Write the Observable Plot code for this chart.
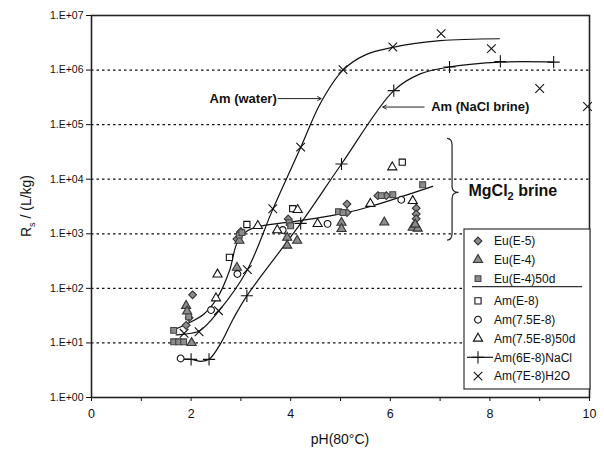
<!DOCTYPE html>
<html><head><meta charset="utf-8">
<script src="https://cdn.jsdelivr.net/npm/d3@7"></script>
<script src="https://cdn.jsdelivr.net/npm/@observablehq/plot@0.6"></script>
<style>
body{margin:0;background:#fff;}
#chart{position:relative;width:604px;height:456px;font-family:"Liberation Sans",Arial,sans-serif;}
</style>
</head><body><div id="chart"></div>
<script>
// ---- data ----
const yTicks = [1, 10, 100, 1e3, 1e4, 1e5, 1e6, 1e7];
const gridY = [10, 100, 1e3, 1e4, 1e5, 1e6];
const xTicks = [0, 1, 2, 3, 4, 5, 6, 7, 8, 9, 10];

const euE5 = [[2.03,76],[1.96,29],[1.9,21],[3.0,1100],[2.92,800],[3.95,1870],[5.13,3500],[5.13,2450],[5.75,5000],[5.92,5000],[6.52,2950],[6.52,2300],[6.52,1880]];
const euE4 = [[1.9,48],[1.92,38],[2.01,10],[2.92,240],[2.97,750],[3.93,850],[3.93,610],[4.13,750],[5.02,1600],[5.02,1230],[5.88,1620],[6.45,1300],[6.55,1250],[6.5,1480]];
const euE4_50d = [[1.65,17],[1.65,10.5],[1.75,10.5],[1.85,10.5],[1.95,30],[2.97,950],[3.02,1050],[3.97,1600],[4.0,1400],[4.96,2550],[5.05,2450],[5.82,5000],[6.05,5200],[6.65,7900]];
const amE8 = [[2.77,370],[3.12,1480],[4.04,2880],[6.24,20500]];
const am75E8 = [[1.79,5.2],[2.4,40],[2.93,183],[3.84,1170],[4.74,1520],[6.22,4200]];
const am75E8_50d = [[2.5,66],[2.53,180],[3.34,1400],[3.73,1170],[4.14,2750],[4.54,1520],[5.6,3550],[6.45,4000],[6.04,16600]];
const amNaCl = [[2.0,5],[2.36,5],[3.12,73],[4.2,1550],[5.02,19000],[6.07,420000],[7.19,1140000],[8.21,1440000],[9.28,1400000]];
const amH2O = [[1.86,15],[2.16,16],[2.55,39],[3.13,220],[3.64,2870],[4.2,38700],[5.05,1020000],[6.05,2650000],[7.02,4650000],[8.03,2470000],[9.0,460000],[9.96,215000]];

// fitted curves
const waterFit = [[1.7,14],[1.86,14.5],[2.16,16.5],[2.55,38],[3.13,220],[3.64,2800],[4.2,38000],[4.6,250000],[5.05,1000000],[5.5,1900000],[6.05,2600000],[7.0,3450000],[8.19,3750000]];
const naclFit = [[1.8,5],[2.0,5],[2.2,4.6],[2.36,5],[2.6,10],[2.85,28],[3.12,73],[4.2,1550],[5.02,19000],[6.07,420000],[6.6,850000],[7.19,1140000],[8.21,1400000],[9.28,1400000]];
const mgFit = [[1.63,17],[1.9,22],[2.26,34],[2.53,68],[2.77,210],[2.93,700],[3.14,1150],[3.4,1380],[4.19,1740],[5.13,2450],[5.6,3160],[6.85,7400]];

const arrows = [
  {x1:3.75, y1:300000, x2:4.61, y2:300000},
  {x1:6.68, y1:210000, x2:5.85, y2:210000}
];
const labelWater = [{x:3.72, y:300000, text:"Am (water)"}];
const labelNaCl = [{x:6.82, y:210000, text:"Am (NaCl brine)"}];
const mgLabel = {x:7.58, y:6200};
const brace = {x:7.15, xTip:7.38, top:55000, mid:5600, bottom:750};

const legendNames = ["Eu(E-5)","Eu(E-4)","Eu(E-4)50d","Am(E-8)","Am(7.5E-8)","Am(7.5E-8)50d","Am(6E-8)NaCl","Am(7E-8)H2O"];

// ---- styles ----
const GRAY = "#8c8c8c";
const styles = [
  {data:euE5, symbol:"diamond2", fill:GRAY, stroke:"#333", r:3.5, sym:d3.symbolDiamond2},
  {data:euE4, symbol:"triangle", fill:GRAY, stroke:"#333", r:3.4, sym:d3.symbolTriangle},
  {data:euE4_50d, symbol:"square", fill:GRAY, stroke:"#444", r:3.3, sym:d3.symbolSquare},
  {data:amE8, symbol:"square", fill:"white", stroke:"#111", r:3.5, sym:d3.symbolSquare},
  {data:am75E8, symbol:"circle", fill:"white", stroke:"#111", r:3.4, sym:d3.symbolCircle},
  {data:am75E8_50d, symbol:"triangle", fill:"white", stroke:"#111", r:3.4, sym:d3.symbolTriangle},
  {data:amNaCl, symbol:"plus", fill:"none", stroke:"#111", r:4.0, sym:d3.symbolPlus, line:true},
  {data:amH2O, symbol:"times", fill:"none", stroke:"#111", r:4.0, sym:d3.symbolTimes}
];

const fmtY = d => "1.E+" + String(Math.round(Math.log10(d))).padStart(2, "0");

const dotMarks = styles.map(s => Plot.dot(s.data, {
  x: d => d[0], y: d => d[1], symbol: () => s.symbol, r: s.r,
  fill: s.fill, stroke: s.stroke, strokeWidth: 1.1
}));

const plot = Plot.plot({
  width: 604, height: 456,
  marginLeft: 91, marginRight: 15, marginTop: 15, marginBottom: 59,
  style: {fontFamily: '"Liberation Sans", Arial, sans-serif', fontSize: "11px", color: "#111", background: "white"},
  x: {domain: [0, 10]},
  y: {type: "log", domain: [1, 1e7]},
  marks: [
    Plot.ruleY(gridY, {stroke: "#111", strokeWidth: 1.3, strokeDasharray: "2.5,3"}),
    Plot.line(waterFit, {x: d => d[0], y: d => d[1], curve: "catmull-rom", stroke: "#111", strokeWidth: 1.2}),
    Plot.line(naclFit, {x: d => d[0], y: d => d[1], curve: "catmull-rom", stroke: "#111", strokeWidth: 1.2}),
    Plot.line(mgFit, {x: d => d[0], y: d => d[1], curve: "catmull-rom", stroke: "#111", strokeWidth: 1.2}),
    ...dotMarks,
    Plot.arrow(arrows, {x1: "x1", y1: "y1", x2: "x2", y2: "y2", stroke: "#222", strokeWidth: 1, headLength: 6}),
    Plot.text(labelWater, {x: "x", y: "y", text: "text", textAnchor: "end", fontWeight: "bold", fontSize: 13, fill: "#111"}),
    Plot.text(labelNaCl, {x: "x", y: "y", text: "text", textAnchor: "start", fontWeight: "bold", fontSize: 13, fill: "#111"}),
    Plot.axisY({ticks: yTicks, tickFormat: fmtY, tickSize: 5, tickPadding: 3, fontSize: 10.5, label: null}),
    Plot.axisX({ticks: xTicks, tickFormat: d => d % 2 === 0 ? String(d) : "", tickSize: 4, tickPadding: 8, fontSize: 12.5, label: null}),
    Plot.frame({stroke: "#222", strokeWidth: 1.6})
  ]
});

document.getElementById("chart").appendChild(plot);

// ---- extras drawn with D3 using the plot's scales ----
const svg = d3.select(plot);
const sx = plot.scale("x"), sy = plot.scale("y");
const X = v => sx.apply(v), Y = v => sy.apply(v);

// axis labels
svg.append("text").attr("x", (X(0)+X(10))/2).attr("y", 444).attr("text-anchor", "middle")
  .attr("font-size", 14).attr("fill", "#111").text("pH(80°C)");
const yl = svg.append("text").attr("transform", `translate(31,${(Y(1)+Y(1e7))/2}) rotate(-90)`)
  .attr("text-anchor", "middle").attr("font-size", 14).attr("fill", "#111");
yl.append("tspan").text("R");
yl.append("tspan").attr("font-size", 9).attr("dy", 4).text("s");
yl.append("tspan").attr("dy", -4).text(" / (L/kg)");

// MgCl2 label
const mg = svg.append("text").attr("x", X(mgLabel.x)).attr("y", Y(mgLabel.y)).attr("dy", "0.35em")
  .attr("text-anchor", "start")
  .attr("font-size", 16).attr("font-weight", "bold").attr("fill", "#111");
mg.append("tspan").text("MgCl");
mg.append("tspan").attr("font-size", 11).attr("dy", 4).text("2");
mg.append("tspan").attr("dy", -4).text(" brine");

// brace
{
  const x0 = X(brace.x), xt = X(brace.xTip), xm = x0 + 5;
  const t = Y(brace.top), m = Y(brace.mid), b = Y(brace.bottom);
  const p = `M${x0},${t} Q${xm},${t} ${xm},${t+7} L${xm},${m-6} Q${xm},${m} ${xt},${m} Q${xm},${m} ${xm},${m+6} L${xm},${b-7} Q${xm},${b} ${x0},${b}`;
  svg.append("path").attr("d", p).attr("fill", "none").attr("stroke", "#222").attr("stroke-width", 1.2);
}

// legend
{
  const lx = 464, ly = 229, lw = 126, lh = 160, rowH = 18.8;
  const g = svg.append("g").attr("text-anchor", "start");
  g.append("rect").attr("x", lx).attr("y", ly).attr("width", lw).attr("height", lh)
    .attr("fill", "white").attr("stroke", "#333").attr("stroke-width", 1.2);
  styles.forEach((s, i) => {
    const cy = ly + 12 + i * rowH + (i >= 3 ? 3.5 : 0);
    const cx = lx + 14;
    if (s.line) g.append("line").attr("x1", lx + 3).attr("x2", lx + 29).attr("y1", cy).attr("y2", cy)
      .attr("stroke", "#111").attr("stroke-width", 1.2);
    g.append("path").attr("transform", `translate(${cx},${cy})`)
      .attr("d", d3.symbol(s.sym, Math.PI * s.r * s.r)())
      .attr("fill", s.fill).attr("stroke", s.stroke).attr("stroke-width", 1.1);
    g.append("text").attr("x", lx + 30).attr("y", cy).attr("dy", "0.35em").attr("text-anchor", "start")
      .attr("font-size", 12).attr("fill", "#111").text(legendNames[i]);
  });
  const sepY = ly + 12 + 2 * rowH + 8;
  g.append("line").attr("x1", lx + 8).attr("x2", lx + 118).attr("y1", sepY).attr("y2", sepY)
    .attr("stroke", "#333").attr("stroke-width", 1.2);
}
</script></body></html>
